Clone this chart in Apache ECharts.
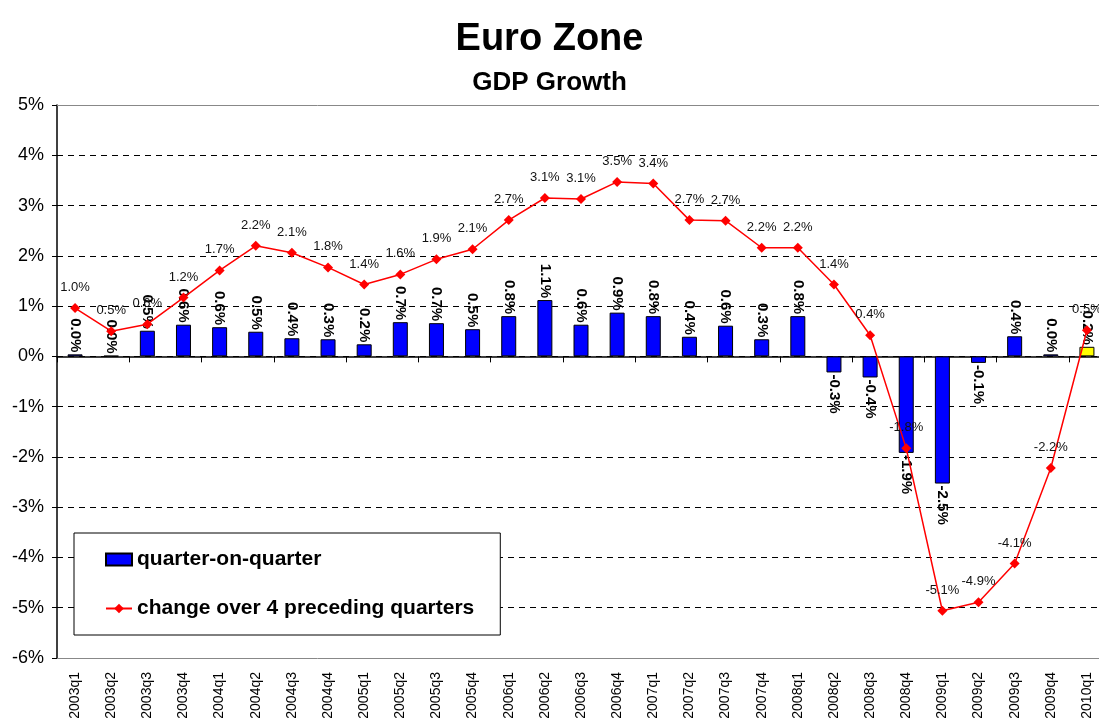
<!DOCTYPE html>
<html>
<head>
<meta charset="utf-8">
<title>Euro Zone GDP Growth</title>
<script src="https://cdn.jsdelivr.net/npm/echarts@6/dist/echarts.min.js"></script>
<style>
  html, body { margin: 0; padding: 0; background: #fff; }
  #chart { width: 1099px; height: 724px; }
</style>
</head>
<body>
<div id="chart"></div>
<script>
// quarters on the x axis
var quarters = ['2003q1', '2003q2', '2003q3', '2003q4', '2004q1', '2004q2', '2004q3', '2004q4',
  '2005q1', '2005q2', '2005q3', '2005q4', '2006q1', '2006q2', '2006q3', '2006q4',
  '2007q1', '2007q2', '2007q3', '2007q4', '2008q1', '2008q2', '2008q3', '2008q4',
  '2009q1', '2009q2', '2009q3', '2009q4', '2010q1'];
// quarter-on-quarter growth, %
var qoq = [0.04, 0.01, 0.51, 0.63, 0.58, 0.49, 0.36, 0.34, 0.24, 0.68, 0.66, 0.54, 0.8, 1.12,
  0.63, 0.87, 0.8, 0.39, 0.61, 0.34, 0.8, -0.32, -0.42, -1.92, -2.53, -0.13, 0.4, 0.04, 0.19];
// change over 4 preceding quarters, %
var yoy = [0.96, 0.5, 0.64, 1.17, 1.71, 2.2, 2.06, 1.77, 1.43, 1.63, 1.93, 2.13, 2.71, 3.15,
  3.13, 3.47, 3.44, 2.71, 2.7, 2.16, 2.16, 1.43, 0.42, -1.83, -5.06, -4.89, -4.12, -2.22, 0.52];
// the latest quarter is a flash estimate, drawn yellow
var flashIndex = 28;

var chart = echarts.init(document.getElementById('chart'));

var barData = qoq.map(function (v, i) {
  var item = {
    value: v,
    label: v < 0
      ? { position: 'bottom', align: 'left' }
      : { position: 'top', align: 'right' }
  };
  if (i === flashIndex) item.itemStyle = { color: '#ffff00' };
  return item;
});

var option = {
  backgroundColor: '#fff',
  animation: false,
  textStyle: { fontFamily: 'Liberation Sans, Arial, sans-serif' },
  title: [
    {
      text: 'Euro Zone',
      left: 'center',
      top: 16,
      textStyle: { fontSize: 38, fontWeight: 'bold', color: '#000' }
    },
    {
      text: 'GDP Growth',
      left: 'center',
      top: 65,
      textStyle: { fontSize: 26, fontWeight: 'bold', color: '#000' }
    }
  ],
  legend: {
    orient: 'vertical',
    left: 74,
    top: 533,
    padding: [16, 26, 16, 31],
    itemGap: 28,
    itemWidth: 26,
    itemHeight: 12,
    borderColor: '#000',
    borderWidth: 1,
    backgroundColor: '#fff',
    textStyle: { fontSize: 21, fontWeight: 'bold', color: '#000' },
    data: [
      { name: 'quarter-on-quarter', icon: 'rect' },
      { name: 'change over 4 preceding quarters' }
    ]
  },
  grid: { left: 57, width: 1048, top: 105, bottom: 66, outerBoundsMode: 'none' },
  xAxis: [
    {
      type: 'category',
      data: quarters,
      position: 'bottom',
      axisLine: { onZero: false, lineStyle: { color: '#888', width: 1 } },
      axisTick: { show: false },
      axisLabel: { rotate: 90, fontSize: 14, color: '#000', margin: 14, interval: 0 }
    },
    {
      type: 'category',
      data: quarters,
      position: 'bottom',
      axisLine: { onZero: true, lineStyle: { color: '#000', width: 1.5 } },
      axisTick: { show: true, inside: false, length: 6, lineStyle: { color: '#000' } },
      axisLabel: { show: false }
    },
    {
      type: 'category',
      data: quarters,
      position: 'top',
      axisLine: { onZero: false, lineStyle: { color: '#888', width: 1 } },
      axisTick: { show: false },
      axisLabel: { show: false }
    }
  ],
  yAxis: {
    type: 'value',
    min: -6,
    max: 5,
    interval: 1,
    axisLine: { show: true, lineStyle: { color: '#000', width: 1.5 } },
    axisTick: { show: true, length: 5, lineStyle: { color: '#000' } },
    axisLabel: {
      fontSize: 18,
      color: '#000',
      margin: 13,
      formatter: function (v) { return v + '%'; }
    },
    splitLine: {
      show: true,
      lineStyle: {
        color: ['#888', '#000', '#000', '#000', '#000', '#000', '#000', '#000', '#000', '#000', '#000', '#888'],
        type: [6, 5],
        width: 1
      }
    }
  },
  series: [
    {
      name: 'quarter-on-quarter',
      type: 'bar',
      xAxisIndex: 0,
      barWidth: 15,
      itemStyle: { color: '#0000ff', borderColor: '#000', borderWidth: 1 },
      label: {
        show: true,
        rotate: -90,
        verticalAlign: 'middle',
        distance: 2,
        fontSize: 15,
        fontWeight: 'bold',
        color: '#000',
        formatter: function (p) { return p.value.toFixed(1) + '%'; }
      },
      data: barData,
      z: 2
    },
    {
      name: 'change over 4 preceding quarters',
      type: 'line',
      xAxisIndex: 0,
      symbol: 'diamond',
      symbolSize: 10,
      lineStyle: { color: '#ff0000', width: 1.5 },
      itemStyle: { color: '#ff0000' },
      label: {
        show: true,
        position: 'top',
        distance: 9,
        fontSize: 13,
        color: '#111',
        formatter: function (p) { return p.value.toFixed(1) + '%'; }
      },
      data: yoy,
      z: 3
    }
  ]
};

chart.setOption(option);
</script>
</body>
</html>
